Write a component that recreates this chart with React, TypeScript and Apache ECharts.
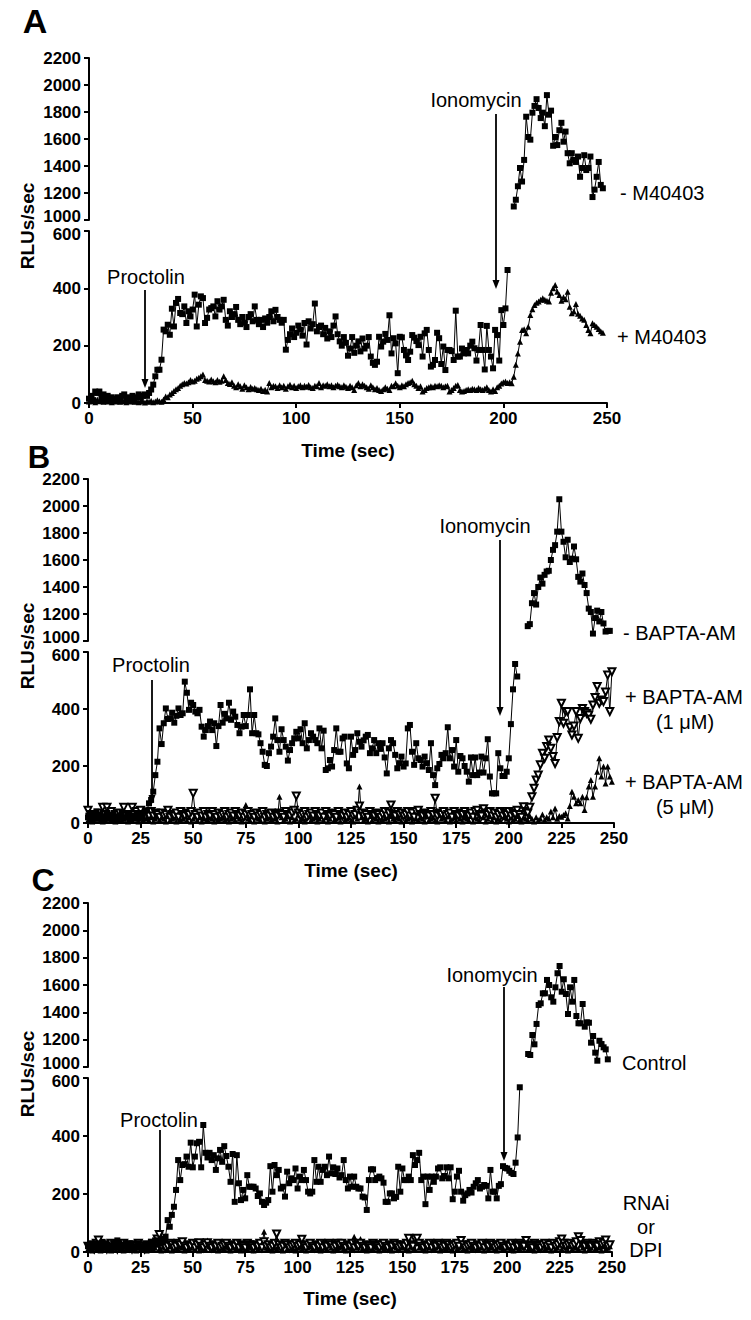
import React, { useEffect, useRef } from "react";
import * as echarts from "echarts";

// ---------- DATA (one value per second) ----------
// Panel A
const aSquareLoStart = 0;
const aSquareLo = [
  15, 25, 10, 40, 35, 40, 20, 30, 15, 25,
  10, 20, 15, 10, 20, 15, 25, 30, 15, 20,
  10, 25, 15, 20, 30, 20, 25, 30, 25, 35,
  47, 64, 93, 116, 116, 151, 256, 250, 273, 238,
  329, 267, 349, 363, 314, 310, 337, 279, 320, 302,
  326, 378, 267, 343, 372, 366, 279, 297, 326, 331,
  337, 302, 355, 326, 337, 360, 290, 270, 320, 300,
  310, 335, 290, 275, 300, 280, 265, 300, 310, 285,
  337, 290, 275, 290, 265, 295, 280, 300, 320, 285,
  325, 300, 290, 280, 290, 186, 220, 240, 260, 230,
  245, 270, 256, 235, 279, 204, 285, 260, 275, 347,
  250, 265, 270, 240, 262, 225, 250, 230, 270, 302,
  240, 215, 200, 230, 210, 165, 190, 230, 175, 200,
  215, 180, 225, 190, 200, 230, 162, 140, 133, 144,
  231, 197, 214, 241, 220, 306, 173, 226, 208, 104,
  231, 229, 185, 166, 150, 179, 237, 228, 216, 202,
  231, 162, 243, 255, 185, 127, 133, 150, 245, 226,
  136, 197, 115, 185, 185, 181, 150, 322, 162, 162,
  190, 173, 185, 173, 200, 214, 191, 148, 185, 272,
  185, 117, 269, 185, 162, 121, 255, 237, 148, 324,
  272, 330, 464,
];
const aSquareHiStart = 205;
const aSquareHi = [
  1100, 1150, 1250, 1385, 1285, 1445, 1765, 1615, 1595, 1795,
  1845, 1895, 1830, 1755, 1795, 1695, 1925, 1780, 1810, 1550,
  1615, 1555, 1665, 1720, 1580, 1655, 1495, 1420, 1495, 1445,
  1430, 1470, 1320, 1385, 1480, 1370, 1385, 1470, 1170, 1225,
  1320, 1430, 1260, 1235,
];
const aTriStart = 0;
const aTri = [
  5, 10, 8, 3, 12, 6, 10, 4, 8, 5,
  7, 3, 9, 5, 10, 4, 6, 8, 3, 7,
  5, 9, 4, 6, 3, 8, 5, 2, 6, 4,
  8, 3, 5, 10, 6, 4, 12, 23, 20, 30,
  35, 42, 48, 52, 60, 65, 70, 68, 72, 80,
  75, 78, 85, 88, 93, 99, 80, 78, 75, 82,
  76, 72, 80, 74, 78, 93, 80, 70, 66, 72,
  60, 55, 65, 58, 50, 62, 55, 48, 56, 50,
  52, 48, 45, 50, 42, 46, 40, 70, 55, 60,
  58, 52, 62, 55, 60, 50, 58, 64, 55, 60,
  52, 58, 62, 55, 60, 57, 63, 55, 52, 60,
  58, 70, 55, 62, 60, 65, 58, 62, 55, 60,
  64, 58, 55, 62, 57, 52, 60, 55, 45, 62,
  70, 58, 65, 60, 55, 50, 62, 55, 48, 52,
  45, 42, 48, 55, 50, 45, 60, 58, 69, 60,
  55, 62, 58, 65, 70, 72, 78, 65, 60, 52,
  58, 40, 45, 52, 55, 58, 55, 60, 58, 62,
  60, 55, 58, 60, 40, 45, 52, 60, 63, 45,
  40, 42, 45, 48, 45, 50, 48, 45, 52, 48,
  45, 50, 55, 45, 40, 48, 42, 55, 60, 68,
  72, 75, 70, 72, 69, 92, 133, 173, 214, 255,
  257, 243, 266, 307, 327, 342, 350, 354, 360, 365,
  360, 357, 354, 385, 400, 412, 388, 377, 357, 369,
  362, 388, 336, 313, 319, 345, 311, 304, 295, 290,
  272, 255, 243, 278, 272, 266, 258, 250, 245,
];

// Panel B
const bSquareLoStart = 0;
const bSquareLo = [
  20, 35, 10, 25, 40, 15, 30, 20, 10, 35,
  25, 15, 30, 20, 10, 25, 35, 15, 20, 30,
  10, 25, 20, 35, 15, 30, 20, 40, 45, 69,
  81, 110, 168, 215, 332, 277, 350, 402, 365, 367,
  387, 352, 376, 402, 379, 385, 496, 457, 397, 422,
  414, 391, 385, 397, 338, 303, 326, 340, 356, 326,
  350, 270, 340, 414, 352, 383, 367, 422, 362, 391,
  373, 344, 315, 338, 379, 340, 379, 469, 315, 379,
  315, 311, 280, 250, 204, 200, 245, 268, 303, 367,
  291, 250, 329, 291, 268, 219, 256, 280, 297, 320,
  297, 329, 280, 350, 262, 291, 315, 303, 291, 280,
  332, 262, 324, 186, 192, 221, 198, 256, 332, 250,
  250, 297, 303, 209, 192, 303, 239, 256, 315, 285,
  268, 290, 303, 309, 245, 262, 291, 245, 280, 260,
  280, 230, 174, 262, 291, 280, 239, 192, 210, 233,
  198, 209, 332, 344, 250, 204, 280, 227, 221, 198,
  233, 210, 186, 280, 168, 133, 192, 207, 239, 227,
  245, 336, 227, 256, 198, 291, 180, 235, 227, 200,
  180, 145, 230, 168, 230, 168, 177, 233, 177, 227,
  294, 163, 104, 104, 104, 245, 192, 165, 165, 180,
  227, 347, 469, 558, 514,
];
const bSquareHiStart = 209;
const bSquareHi = [
  1110, 1125, 1280, 1355, 1270, 1400, 1470, 1425, 1490, 1515,
  1520, 1600, 1675, 1710, 1810, 2050, 1810, 1735, 1620, 1750,
  1585, 1610, 1700, 1605, 1475, 1440, 1500, 1415, 1355, 1240,
  1215, 1055, 1170, 1225, 1145, 1215, 1130, 1070, 1075, 1075,
];
const bOpen1Start = 0;
const bOpen1 = [
  45, 20, 30, 15, 25, 35, 20, 55, 30, 55,
  25, 40, 20, 30, 15, 35, 20, 55, 25, 30,
  20, 55, 30, 40, 25, 45, 30, 20, 35, 25,
  40, 25, 35, 30, 20, 35, 25, 30, 45, 20,
  30, 25, 35, 20, 40, 30, 25, 35, 30, 40,
  104, 30, 20, 35, 25, 40, 20, 30, 25, 40,
  30, 20, 35, 25, 30, 40, 20, 30, 35, 25,
  40, 30, 25, 35, 20, 30, 40, 25, 30, 20,
  35, 25, 30, 40, 20, 30, 25, 35, 20, 30,
  25, 35, 30, 20, 40, 30, 25, 35, 45, 95,
  35, 25, 30, 40, 20, 30, 35, 25, 40, 30,
  25, 35, 20, 40, 30, 25, 35, 30, 20, 40,
  30, 25, 35, 20, 30, 40, 25, 30, 45, 60,
  35, 25, 30, 20, 40, 30, 25, 35, 30, 20,
  30, 40, 25, 35, 63, 30, 25, 40, 30, 35,
  25, 30, 40, 25, 35, 20, 40, 45, 30, 25,
  35, 30, 25, 40, 30, 87, 25, 35, 30, 40,
  25, 30, 35, 20, 40, 30, 25, 35, 30, 40,
  30, 25, 35, 20, 40, 45, 30, 25, 50, 35,
  30, 40, 25, 35, 20, 30, 40, 25, 35, 30,
  40, 25, 35, 30, 45, 30, 20, 57, 40, 35,
  55, 92, 122, 151, 168, 204, 245, 227, 268, 291,
  262, 233, 209, 300, 356, 420, 350, 391, 391, 336,
  309, 340, 391, 297, 367, 402, 391, 385, 379, 364,
  414, 440, 479, 420, 432, 426, 460, 519, 391, 531,
];
const bFill5Start = 0;
const bFill5 = [
  10, 25, 5, 20, 15, 30, 10, 5, 20, 15,
  25, 10, 15, 5, 20, 30, 10, 15, 25, 5,
  20, 10, 15, 25, 5, 20, 10, 30, 15, 10,
  20, 5, 15, 25, 10, 20, 15, 5, 25, 10,
  15, 20, 5, 30, 10, 15, 25, 10, 20, 5,
  15, 25, 10, 20, 5, 15, 30, 10, 20, 15,
  5, 25, 10, 15, 20, 10, 30, 5, 15, 20,
  10, 25, 15, 5, 20, 63, 15, 10, 25, 5,
  20, 15, 10, 30, 5, 15, 20, 10, 25, 15,
  5, 92, 20, 10, 15, 25, 5, 20, 10, 15,
  30, 10, 15, 5, 20, 25, 10, 15, 20, 5,
  15, 25, 10, 20, 5, 15, 30, 10, 15, 20,
  5, 25, 10, 15, 20, 10, 5, 25, 15, 128,
  20, 10, 15, 5, 25, 10, 20, 15, 5, 30,
  10, 15, 20, 5, 25, 15, 10, 20, 15, 5,
  25, 10, 15, 20, 5, 30, 15, 10, 20, 15,
  5, 25, 10, 15, 20, 10, 5, 30, 15, 20,
  10, 25, 5, 15, 20, 10, 30, 15, 5, 20,
  15, 10, 25, 5, 20, 15, 10, 30, 20, 5,
  15, 25, 10, 20, 5, 15, 10, 25, 20, 15,
  5, 20, 10, 15, 25, 10, 5, 20, 15, 10,
  25, 15, 5, 20, 10, 15, 30, 10, 20, 15,
  40, 20, 51, 15, 25, 22, 28, 34, 16, 60,
  110, 92, 69, 81, 69, 92, 46, 90, 128, 151,
  92, 128, 180, 227, 163, 198, 139, 198, 163, 145,
];

// Panel C
const cSquareLoStart = 0;
const cSquareLo = [
  20, 10, 25, 15, 30, 10, 20, 35, 15, 25,
  10, 20, 30, 15, 40, 25, 10, 20, 30, 15,
  25, 10, 20, 15, 30, 20, 10, 25, 15, 20,
  35, 25, 40, 39, 30, 36, 45, 53, 110, 87,
  128, 156, 214, 317, 248, 300, 303, 329, 294, 377,
  292, 329, 375, 380, 292, 438, 342, 326, 342, 317,
  334, 283, 323, 352, 311, 365, 331, 294, 242, 338,
  173, 334, 237, 179, 214, 185, 265, 225, 225, 225,
  219, 193, 202, 173, 162, 170, 179, 296, 208, 300,
  265, 283, 219, 225, 191, 277, 237, 254, 248, 288,
  219, 260, 248, 283, 248, 208, 202, 208, 317, 242,
  294, 242, 283, 294, 265, 329, 271, 292, 269, 288,
  257, 265, 317, 248, 219, 260, 225, 260, 225, 219,
  219, 191, 188, 145, 248, 285, 285, 248, 255, 260,
  254, 239, 173, 173, 202, 202, 185, 190, 294, 208,
  288, 248, 248, 260, 248, 334, 300, 317, 342, 248,
  260, 165, 260, 214, 260, 242, 260, 288, 292, 254,
  262, 292, 254, 292, 182, 208, 260, 280, 208, 177,
  196, 202, 214, 205, 225, 237, 248, 219, 225, 231,
  228, 185, 283, 208, 208, 185, 228, 234, 296, 290,
  288, 280, 273, 269, 308, 395, 568,
];
const cSquareHiStart = 210;
const cSquareHi = [
  1095, 1088, 1234, 1166, 1315, 1454, 1466, 1539, 1539, 1637,
  1600, 1510, 1478, 1583, 1686, 1739, 1551, 1642, 1534, 1388,
  1583, 1478, 1637, 1373, 1320, 1320, 1461, 1295, 1327, 1324,
  1178, 1227, 1105, 1046, 1192, 1168, 1144, 1129, 1056,
];
const cOpenStart = 0;
const cOpen = [
  20, 15, 25, 10, 30, 41, 20, 15, 25, 10,
  20, 30, 15, 25, 10, 20, 15, 30, 20, 25,
  15, 10, 25, 20, 30, 15, 20, 10, 25, 15,
  20, 30, 25, 45, 60, 20, 25, 15, 20, 30,
  25, 15, 20, 30, 25, 35, 20, 15, 25, 20,
  30, 15, 25, 32, 20, 15, 25, 32, 20, 15,
  25, 20, 30, 15, 20, 25, 30, 20, 15, 25,
  20, 30, 15, 25, 20, 15, 30, 25, 20, 15,
  25, 20, 30, 15, 35, 20, 25, 15, 20, 30,
  62, 25, 15, 20, 30, 25, 15, 20, 25, 30,
  20, 25, 44, 20, 15, 25, 30, 20, 15, 25,
  20, 30, 15, 25, 20, 30, 25, 15, 20, 30,
  25, 30, 20, 15, 25, 20, 30, 15, 25, 20,
  30, 20, 15, 25, 20, 15, 30, 25, 20, 15,
  25, 30, 20, 15, 25, 20, 30, 25, 15, 20,
  25, 20, 30, 47, 25, 20, 45, 47, 30, 20,
  15, 25, 20, 30, 15, 25, 20, 30, 25, 15,
  20, 30, 25, 15, 20, 25, 30, 20, 40, 25,
  15, 20, 25, 30, 20, 15, 25, 20, 30, 15,
  25, 20, 30, 25, 15, 20, 25, 30, 20, 15,
  25, 20, 30, 15, 25, 20, 30, 25, 20, 40,
  25, 20, 15, 30, 25, 20, 15, 25, 30, 20,
  25, 15, 30, 20, 25, 35, 45, 30, 20, 25,
  30, 20, 25, 35, 53, 40, 25, 20, 30, 25,
  20, 30, 25, 20, 35, 25, 30, 41, 20, 25,
];
const cFillStart = 0;
const cFill = [
  10, 20, 5, 15, 25, 10, 5, 20, 15, 10,
  25, 5, 15, 20, 10, 30, 15, 5, 20, 10,
  15, 25, 10, 5, 20, 15, 10, 25, 5, 15,
  20, 10, 15, 25, 10, 5, 20, 15, 10, 20,
  5, 15, 25, 10, 20, 15, 5, 20, 10, 15,
  25, 10, 20, 5, 15, 30, 10, 40, 20, 15,
  10, 20, 5, 15, 25, 10, 20, 15, 5, 20,
  15, 10, 20, 5, 15, 25, 10, 20, 15, 5,
  20, 10, 15, 25, 70, 15, 10, 20, 5, 15,
  10, 20, 15, 5, 25, 10, 15, 20, 10, 5,
  15, 20, 10, 25, 5, 15, 20, 10, 15, 25,
  10, 5, 20, 15, 10, 25, 15, 5, 20, 10,
  15, 20, 10, 5, 25, 15, 10, 53, 20, 15,
  45, 10, 20, 5, 15, 25, 10, 20, 15, 5,
  20, 10, 15, 25, 10, 5, 20, 15, 10, 20,
  15, 25, 10, 5, 20, 15, 10, 30, 15, 20,
  10, 5, 20, 15, 25, 10, 15, 20, 5, 15,
  30, 10, 20, 15, 5, 25, 10, 15, 20, 10,
  15, 5, 20, 10, 25, 15, 10, 20, 15, 5,
  20, 10, 15, 25, 10, 5, 20, 15, 10, 20,
  15, 25, 10, 5, 20, 15, 10, 20, 15, 25,
  10, 30, 15, 5, 20, 10, 15, 25, 10, 20,
  15, 5, 20, 10, 15, 25, 10, 20, 15, 5,
  20, 10, 30, 15, 10, 25, 15, 5, 20, 10,
  15, 25, 10, 20, 15, 5, 20, 10, 15, 20,
];

// Tick values
const upperTicks = { min: 1000, max: 2200, interval: 200 };
const lowerTicks = { min: 0, max: 600, interval: 200 };
const xRange = { min: 0, max: 250 };
const xIntervals = [50, 25, 25];

// ---------- LAYOUT ----------
const FONT = "'Liberation Sans', Arial, Helvetica, sans-serif";
const grids = [
  { left: 89, top: 58, width: 518, height: 162 },
  { left: 89, top: 231, width: 518, height: 172 },
  { left: 88, top: 479, width: 526, height: 162 },
  { left: 88, top: 652, width: 526, height: 171 },
  { left: 88, top: 903, width: 524, height: 164 },
  { left: 88, top: 1078, width: 524, height: 174 },
];

const toXY = (start: number, vals: number[]) => vals.map((v, i) => [start + i, v]);

function mkSeries(kind: "sq" | "tri" | "open", data: number[][], idx: number, z: number) {
  const base: any = {
    type: "line",
    xAxisIndex: idx,
    yAxisIndex: idx,
    data,
    lineStyle: { color: "#000", width: 1 },
    itemStyle: { color: "#000" },
    silent: true,
    animation: false,
    z,
  };
  if (kind === "sq") {
    base.symbol = "rect";
    base.symbolSize = 6;
  } else if (kind === "tri") {
    base.symbol = "triangle";
    base.symbolSize = 6;
  } else {
    base.symbol = "emptyTriangle";
    base.symbolRotate = 180;
    base.symbolSize = 7;
    base.itemStyle = { color: "#000", borderColor: "#000", borderWidth: 1 };
  }
  return base;
}

const txt = (text: string, x: number, y: number, size: number, bold: boolean, align = "left", rotation = 0): any => ({
  type: "text",
  x,
  y,
  rotation,
  silent: true,
  style: {
    text,
    fill: "#000",
    font: `${bold ? "bold " : ""}${size}px ${FONT}`,
    textAlign: align,
    textVerticalAlign: "middle",
    align,
    verticalAlign: "middle",
  },
});

const arrow = (x: number, y1: number, y2: number): any[] => [
  { type: "line", silent: true, shape: { x1: x, y1, x2: x, y2: y2 - 6 }, style: { stroke: "#000", lineWidth: 1.8 } },
  { type: "polygon", silent: true, shape: { points: [[x - 3.5, y2 - 9], [x + 3.5, y2 - 9], [x, y2]] }, style: { fill: "#000" } },
];

export default function App() {
  const ref = useRef<HTMLDivElement>(null);
  useEffect(() => {
    if (!ref.current) return;
    const chart = echarts.init(ref.current, undefined, { renderer: "svg" });
    const labelStyle = { color: "#000", fontFamily: FONT, fontWeight: "bold", fontSize: 17 };
    const richBase = { color: "#000", fontFamily: FONT, fontWeight: "bold", fontSize: 17 };
    const xAxis = grids.map((_, i) => {
      const panel = Math.floor(i / 2);
      const lower = i % 2 === 1;
      return {
        type: "value",
        gridIndex: i,
        min: xRange.min,
        max: xRange.max,
        interval: xIntervals[panel],
        show: lower,
        axisLine: { show: true, onZero: false, lineStyle: { color: "#000", width: 2 } },
        axisTick: { show: true, length: 5, lineStyle: { color: "#000", width: 2 } },
        axisLabel: { ...labelStyle, margin: 7, formatter: (v: number) => String(v) },
        splitLine: { show: false },
      };
    });
    const yAxis = grids.map((_, i) => {
      const lower = i % 2 === 1;
      const t = lower ? lowerTicks : upperTicks;
      return {
        type: "value",
        gridIndex: i,
        min: t.min,
        max: t.max,
        interval: t.interval,
        axisLine: { show: true, onZero: false, lineStyle: { color: "#000", width: 2 } },
        axisTick: { show: true, length: 5, lineStyle: { color: "#000", width: 2 } },
        axisLabel: {
          ...labelStyle,
          margin: 8,
          formatter: lower
            ? (v: number) => (v === t.max ? `{hi|${v}}` : String(v))
            : (v: number) => (v === t.min ? `{lo|${v}}` : String(v)),
          rich: {
            hi: { ...richBase, padding: [7, 0, 0, 0] },
            lo: { ...richBase, padding: [0, 0, 7, 0] },
          },
        },
        splitLine: { show: false },
      };
    });
    const series = [
      mkSeries("sq", toXY(aSquareHiStart, aSquareHi), 0, 3),
      mkSeries("tri", toXY(aTriStart, aTri), 1, 2),
      mkSeries("sq", toXY(aSquareLoStart, aSquareLo), 1, 3),
      mkSeries("sq", toXY(bSquareHiStart, bSquareHi), 2, 3),
      mkSeries("tri", toXY(bFill5Start, bFill5), 3, 2),
      mkSeries("open", toXY(bOpen1Start, bOpen1), 3, 2),
      mkSeries("sq", toXY(bSquareLoStart, bSquareLo), 3, 3),
      mkSeries("sq", toXY(cSquareHiStart, cSquareHi), 4, 3),
      mkSeries("tri", toXY(cFillStart, cFill), 5, 2),
      mkSeries("open", toXY(cOpenStart, cOpen), 5, 2),
      mkSeries("sq", toXY(cSquareLoStart, cSquareLo), 5, 3),
    ];
    const graphic: any[] = [
      txt("A", 35, 21, 34, true, "center"),
      txt("B", 39, 457, 31, true, "center"),
      txt("C", 43, 880, 32, true, "center"),
      txt("RLUs/sec", 27, 226, 19, true, "center", Math.PI / 2),
      txt("RLUs/sec", 27, 646, 19, true, "center", Math.PI / 2),
      txt("RLUs/sec", 27, 1074, 19, true, "center", Math.PI / 2),
      txt("Time (sec)", 348, 450, 19, true, "center"),
      txt("Time (sec)", 351, 870, 19, true, "center"),
      txt("Time (sec)", 350, 1298, 19, true, "center"),
      // Panel A
      txt("Proctolin", 146, 277, 20, false, "center"),
      ...arrow(145, 290, 388),
      txt("Ionomycin", 476, 100, 20, false, "center"),
      ...arrow(496, 114, 289),
      txt("- M40403", 620, 193, 20, false, "left"),
      txt("+ M40403", 617, 337, 20, false, "left"),
      // Panel B
      txt("Proctolin", 151, 665, 20, false, "center"),
      ...arrow(152, 680, 804),
      txt("Ionomycin", 485, 526, 20, false, "center"),
      ...arrow(500, 540, 716),
      txt("- BAPTA-AM", 623, 633, 20, false, "left"),
      txt("+ BAPTA-AM", 625, 697, 20, false, "left"),
      txt("(1 \u03BCM)", 685, 722, 20, false, "center"),
      txt("+ BAPTA-AM", 625, 782, 20, false, "left"),
      txt("(5 \u03BCM)", 685, 807, 20, false, "center"),
      // Panel C
      txt("Proctolin", 159, 1120, 20, false, "center"),
      ...arrow(160, 1130, 1241),
      txt("Ionomycin", 492, 975, 20, false, "center"),
      ...arrow(504, 987, 1161),
      txt("Control", 622, 1063, 20, false, "left"),
      txt("RNAi", 646, 1203, 20, false, "center"),
      txt("or", 646, 1227, 20, false, "center"),
      txt("DPI", 646, 1250, 20, false, "center"),
    ];
    chart.setOption({
      animation: false,
      backgroundColor: "#fff",
      grid: grids.map((g) => ({ ...g, containLabel: false })),
      xAxis,
      yAxis,
      series,
      graphic,
    });
    return () => chart.dispose();
  }, []);
  return (
    <div
      ref={ref}
      style={{ position: "absolute", left: 0, top: 0, width: 751, height: 1320, background: "#fff" }}
    />
  );
}
